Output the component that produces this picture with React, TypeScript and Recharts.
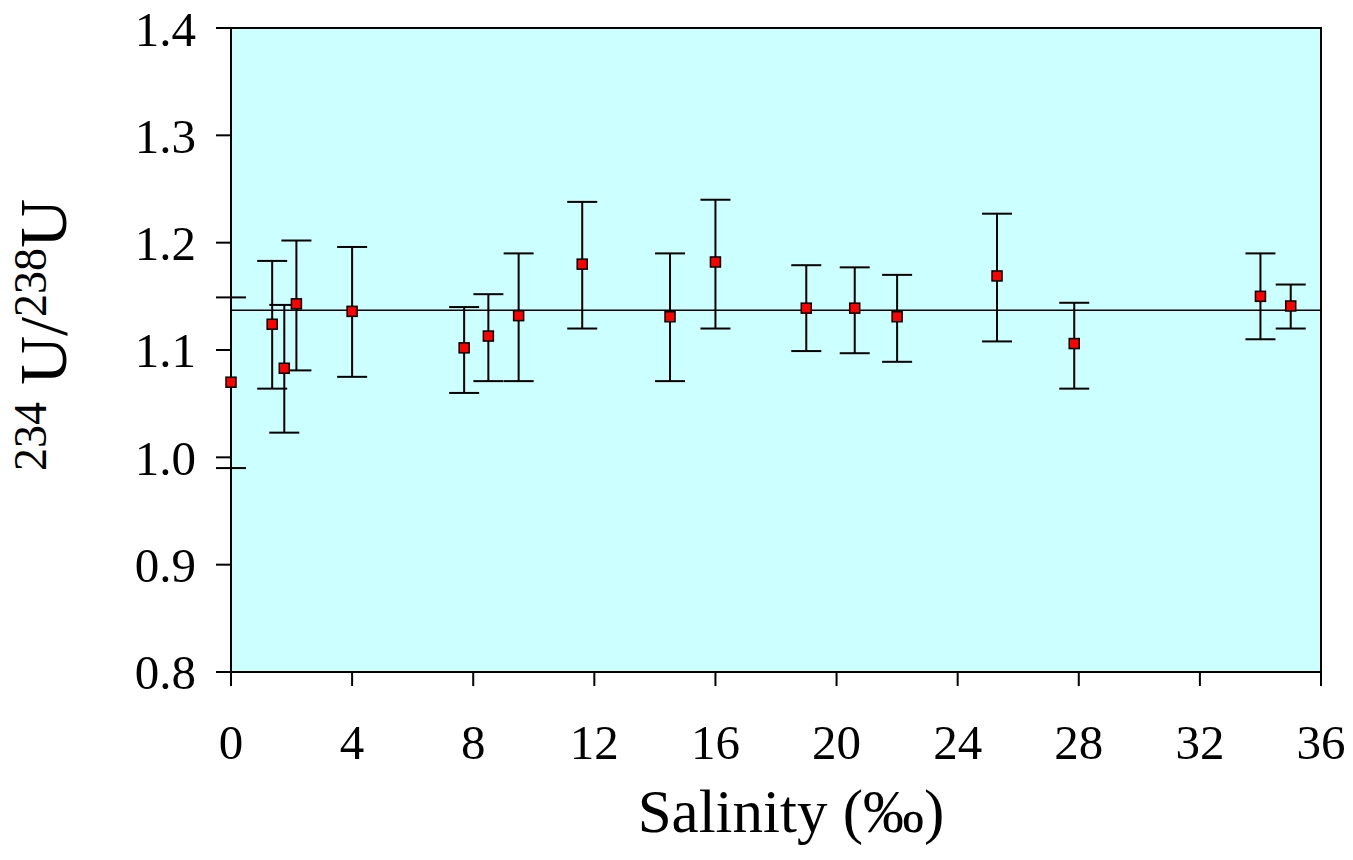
import React from 'react'
import {
  ScatterChart, Scatter, XAxis, YAxis, ErrorBar, ReferenceLine,
  ReferenceArea, CartesianGrid,
} from 'recharts'

// salinity (‰) and the 234U/238U activity ratio
const salinity = [0, 1.36, 1.76, 2.16, 4.0, 7.7, 8.5, 9.5, 11.6, 14.5, 16.0, 19.0, 20.6, 22.0, 25.3, 27.85, 34.0, 35.0]
const ratio = [1.070, 1.124, 1.083, 1.143, 1.136, 1.102, 1.113, 1.132, 1.180, 1.131, 1.182, 1.139, 1.139, 1.131, 1.169, 1.106, 1.150, 1.141]
const upper = [1.149, 1.183, 1.142, 1.202, 1.196, 1.140, 1.152, 1.190, 1.238, 1.190, 1.240, 1.179, 1.177, 1.170, 1.227, 1.144, 1.190, 1.161]
const lower = [0.990, 1.064, 1.023, 1.081, 1.075, 1.060, 1.071, 1.071, 1.120, 1.071, 1.120, 1.099, 1.097, 1.089, 1.108, 1.064, 1.110, 1.120]
const meanRatio = 1.137

const xTicks = [0, 4, 8, 12, 16, 20, 24, 28, 32, 36]
const yTicks = [0.8, 0.9, 1.0, 1.1, 1.2, 1.3, 1.4]

const FONT = 'Liberation Serif, Times New Roman, serif'

const data = salinity.map((s, i) => ({
  s,
  r: ratio[i],
  err: [ratio[i] - lower[i], upper[i] - ratio[i]],
}))

function Square(props: any) {
  const { cx, cy } = props
  if (cx == null || cy == null) return null
  return <rect x={cx - 5} y={cy - 5} width={10} height={10} fill="#ff0000" stroke="#000" strokeWidth={1.5} />
}

function YLabel() {
  return (
    <text transform="translate(66,471) rotate(-90)" style={{ fontFamily: FONT }} fill="#000" textAnchor="start">
      <tspan fontSize={46} dy={-20}>234</tspan>
      <tspan fontSize={68} dy={20}> U/</tspan>
      <tspan fontSize={46} dy={-20}>238</tspan>
      <tspan fontSize={68} dy={20}>U</tspan>
    </text>
  )
}

export default function App() {
  return (
    <div style={{ position: 'absolute', left: 0, top: 0, width: 1353, height: 860, background: '#fff', fontFamily: FONT }}>
      <ScatterChart width={1353} height={860} margin={{ top: 28, right: 32, bottom: 0, left: 0 }}>
        <CartesianGrid fill="#ccffff" horizontal={false} vertical={false} />
        <XAxis
          type="number"
          dataKey="s"
          domain={[0, 36]}
          ticks={xTicks}
          height={188}
          tickSize={14}
          tickMargin={38}
          axisLine={{ stroke: '#000', strokeWidth: 2 }}
          tickLine={{ stroke: '#000', strokeWidth: 2 }}
          tick={{ fontSize: 49, fill: '#000', fontFamily: FONT }}
          label={{
            content: () => (
              <text x={791} y={832} textAnchor="middle" fontSize={61} style={{ fontFamily: FONT }} fill="#000">
                Salinity (‰)
              </text>
            ),
          }}
        />
        <YAxis
          type="number"
          dataKey="r"
          domain={[0.8, 1.4]}
          ticks={yTicks}
          width={231}
          tickSize={15}
          tickMargin={20}
          tickFormatter={(v: number) => v.toFixed(1)}
          axisLine={{ stroke: '#000', strokeWidth: 2 }}
          tickLine={{ stroke: '#000', strokeWidth: 2 }}
          tick={{ fontSize: 49, fill: '#000', fontFamily: FONT }}
          label={{ content: () => <YLabel /> }}
        />
        <ReferenceArea x1={0} x2={36} y1={0.8} y2={1.4} fill="none" stroke="#000" strokeWidth={2} />
        <ReferenceLine y={meanRatio} stroke="#000" strokeWidth={1.5} />
        <Scatter data={data} shape={<Square />} isAnimationActive={false}>
          <ErrorBar dataKey="err" direction="y" width={15} stroke="#000" strokeWidth={2} />
        </Scatter>
      </ScatterChart>
    </div>
  )
}
